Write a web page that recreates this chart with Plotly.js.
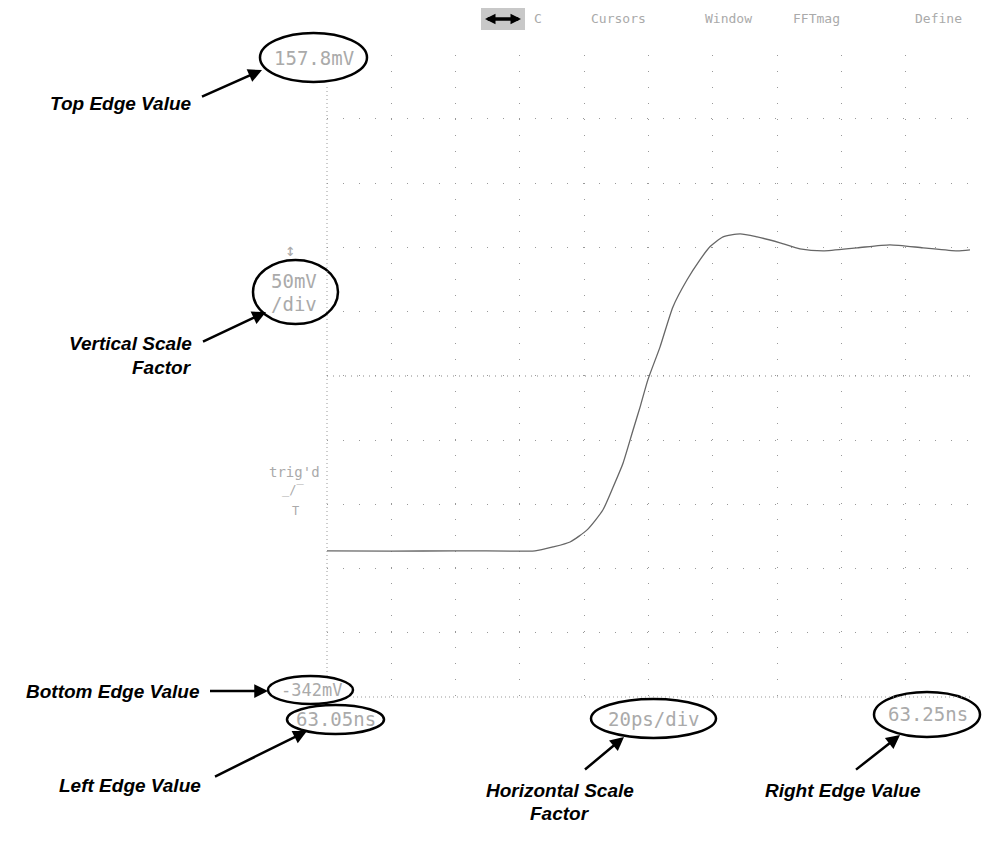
<!DOCTYPE html>
<html>
<head>
<meta charset="utf-8">
<script src="https://cdn.plot.ly/plotly-3.0.1.min.js"></script>
<style>
  html, body { margin: 0; padding: 0; background: #fff; }
  #scope { width: 985px; height: 847px; }
</style>
</head>
<body>
<div id="scope"></div>
<script>
// Step response captured on the scope, time measured from the left edge (63.05 ns)
const timePs = [0, 20, 40, 60, 64.7, 70.3, 75.6, 80.9, 85.8, 89.0, 92.1, 95.2, 97.4, 99.8,
  103.6, 107.6, 112.0, 116.0, 119.1, 123.2, 128.5, 133.8, 140.9, 147.1, 154.3, 164.9,
  175.1, 185.4, 196.0, 200];
const voltageMv = [-228.3, -228.5, -228.2, -228.4, -228.3, -225.2, -221.3, -211.9, -196.4,
  -178.5, -159.8, -134.1, -116.1, -95.1, -69.4, -38.3, -17.2, -1.7, 8.5, 16.2, 18.6, 16.2,
  11.6, 6.9, 5.3, 7.7, 10.0, 7.7, 5.3, 6.1];

// screen edges and scale factors
const topEdgeMv = 157.8;
const bottomEdgeMv = -342;
const mvPerDiv = 50;
const psPerDiv = 20;
const leftEdgeLabel = '63.05ns';
const rightEdgeLabel = '63.25ns';
const menuItems = ['C', 'Cursors', 'Window', 'FFTmag', 'Define'];

// plot area in page pixels
const L = 327, R = 970, T = 55, B = 697;
const px = X => (X - L) / (R - L);
const py = Y => (B - Y) / (B - T);

const grey = '#aaa';
const mono = { family: 'DejaVu Sans Mono, monospace', size: 19, color: grey };
const small = size => Object.assign({}, mono, { size: size });
const bold = { family: 'Liberation Sans, Arial, sans-serif', size: 19, color: '#000', weight: 'bold', style: 'italic' };

function label(text, X, Y, anchor, font) {
  return { text: text, xref: 'paper', yref: 'paper', x: px(X), y: py(Y),
    xanchor: anchor || 'center', yanchor: 'middle', showarrow: false, font: font || bold };
}
function arrow(x0, y0, x1, y1, w, s) {
  return { text: ' ', xref: 'paper', yref: 'paper', x: px(x1), y: py(y1),
    ax: x0 - x1, ay: y0 - y1, showarrow: true, arrowhead: 2, arrowsize: s || 1.1,
    arrowwidth: w || 2.5, arrowcolor: '#000', standoff: 0, startstandoff: 0 };
}
function oval(x0, y0, x1, y1) {
  return { type: 'circle', xref: 'paper', yref: 'paper', x0: px(x0), x1: px(x1),
    y0: py(y1), y1: py(y0), line: { color: '#000', width: 2.5 } };
}

const menuX = [538, 618, 728, 816, 938];

const annotations = [
  // scope readouts
  label(topEdgeMv.toFixed(1) + 'mV', 314, 58, 'center', mono),
  label(mvPerDiv + 'mV', 294, 281, 'center', mono),
  label('/div', 294, 304, 'center', mono),
  label(bottomEdgeMv + 'mV', 311, 690, 'center', small(17)),
  label(leftEdgeLabel, 336, 719, 'center', mono),
  label(psPerDiv + 'ps/div', 654, 719, 'center', mono),
  label(rightEdgeLabel, 928, 714, 'center', mono),
  label("trig'd", 294, 472, 'center', small(14)),
  label('_/\u203e', 293, 490, 'center', small(12)),
  label('T', 295, 511, 'center', small(12)),
  label('\u2195', 290, 250, 'center', small(17)),
  // menu bar
  ...menuItems.map((m, i) => label(m, menuX[i], 18, 'center', small(13))),
  arrow(498, 19, 485, 19, 3.5, 0.6),
  arrow(508, 19, 521, 19, 3.5, 0.6),
  // callouts
  label('Top Edge Value', 194, 104, 'right'),
  label('Vertical Scale', 194, 343, 'right'),
  label('Factor', 194, 367, 'right'),
  label('Bottom Edge Value', 202, 691, 'right'),
  label('Left Edge Value', 203, 785, 'right'),
  label('Horizontal Scale', 560, 791),
  label('Factor', 560, 813),
  label('Right Edge Value', 843, 791),
  arrow(199, 98, 262, 70),
  arrow(200, 343, 266, 312),
  arrow(207, 691, 268, 691),
  arrow(212, 778, 307, 731),
  arrow(582, 772, 624, 737),
  arrow(853, 772, 900, 735)
];

const shapes = [
  oval(260, 33, 367, 82),
  oval(253, 260, 338, 324),
  oval(268, 676, 353, 704),
  oval(287, 705, 384, 734),
  oval(591, 699, 716, 738),
  oval(874, 692, 980, 737),
  // menu highlight box and its double arrow shaft
  { type: 'rect', xref: 'paper', yref: 'paper', x0: px(481), x1: px(525), y0: py(30), y1: py(8),
    fillcolor: '#c8c8c8', line: { width: 0 }, layer: 'below' },
  { type: 'line', xref: 'paper', yref: 'paper', x0: px(490), x1: px(516), y0: py(19), y1: py(19),
    line: { color: '#000', width: 3.5 } },
  // left and bottom edges of the graticule
  { type: 'line', xref: 'paper', yref: 'paper', x0: 0, x1: 0, y0: py(676), y1: py(84),
    line: { color: '#999', width: 1, dash: '1px,3px' } },
  { type: 'line', xref: 'paper', yref: 'paper', x0: px(353), x1: 1, y0: 0, y1: 0,
    line: { color: '#999', width: 1, dash: '1px,3px' } },
  // centre horizontal line
  { type: 'line', xref: 'paper', x0: 0, x1: 1, yref: 'y',
    y0: (topEdgeMv + bottomEdgeMv) / 2, y1: (topEdgeMv + bottomEdgeMv) / 2,
    line: { color: '#888', width: 1, dash: '1px,5px' } }
];

Plotly.newPlot('scope', [{
  x: timePs,
  y: voltageMv,
  type: 'scatter',
  mode: 'lines',
  line: { color: '#666', width: 1.3, shape: 'spline', smoothing: 0.6 },
  hoverinfo: 'skip'
}], {
  width: 985,
  height: 847,
  margin: { l: L, r: 985 - R, t: T, b: 847 - B },
  paper_bgcolor: '#fff',
  plot_bgcolor: '#fff',
  showlegend: false,
  xaxis: {
    range: [0, 10 * psPerDiv], dtick: psPerDiv, tick0: 0,
    showgrid: true, gridcolor: '#999', griddash: '1px,15px', gridwidth: 1,
    zeroline: false, showline: false, showticklabels: false, ticks: ''
  },
  yaxis: {
    range: [bottomEdgeMv, topEdgeMv], dtick: mvPerDiv, tick0: bottomEdgeMv,
    showgrid: true, gridcolor: '#999', griddash: '1px,15px', gridwidth: 1,
    zeroline: false, showline: false, showticklabels: false, ticks: ''
  },
  shapes: shapes,
  annotations: annotations
}, { staticPlot: true });
</script>
</body>
</html>
